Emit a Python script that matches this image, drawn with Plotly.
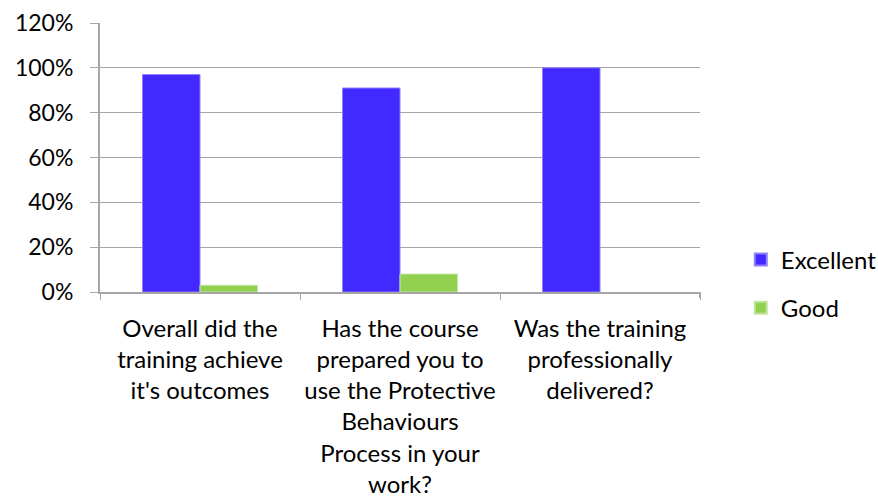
import plotly.graph_objects as go

categories = [
    "Overall did the<br>training achieve<br>it's outcomes",
    "Has the course<br>prepared you to<br>use the Protective<br>Behaviours<br>Process in your<br>work?",
    "Was the training<br>professionally<br>delivered?",
]
excellent = [0.97, 0.91, 1.00]
good = [0.03, 0.08, 0.0]
y_ticks = [0, 0.2, 0.4, 0.6, 0.8, 1.0, 1.2]

FAM = "Lato, 'Open Sans', sans-serif"
FONT = dict(family=FAM, size=24, color="#000000")

fig = go.Figure()
fig.add_trace(go.Bar(
    name="Excellent", x=categories, y=excellent, legendgroup="a",
    marker=dict(color="#4229FF", line=dict(color="#8F80FF", width=1)),
))
fig.add_trace(go.Bar(
    name="Good", x=categories, y=good, legendgroup="b",
    marker=dict(color="#92D050", line=dict(color="#C2E6A0", width=[1, 1, 0])),
))

fig.update_layout(
    width=878, height=499,
    margin=dict(l=100, r=178, t=23, b=207, autoexpand=False),
    paper_bgcolor="white", plot_bgcolor="white",
    font=FONT,
    barmode="group", bargap=0.425, bargroupgap=0,
    showlegend=True,
    legend=dict(x=1.068, xanchor="left", y=0.03, yanchor="middle",
                font=FONT, tracegroupgap=14, itemsizing="constant"),
)
fig.update_yaxes(
    range=[0, 1.2], tickvals=y_ticks, tickformat=".0%",
    tickfont=dict(family=FAM, size=23, color="#000000"),
    showgrid=True, gridcolor="#A6A6A6", gridwidth=1,
    showline=True, linecolor="#A6A6A6", linewidth=2,
    ticks="outside", ticklen=8, tickcolor="#A6A6A6",
    zeroline=False, ticklabelstandoff=12, automargin=False,
)
fig.update_xaxes(
    tickfont=dict(family=FAM, size=24, color="#000000"),
    showline=True, linecolor="#A6A6A6", linewidth=2,
    ticks="outside", tickson="boundaries", ticklen=6, tickcolor="#A6A6A6",
    showgrid=False, tickangle=0, automargin=False, ticklabelstandoff=14,
)
fig.add_shape(type="line", xref="paper", yref="paper", x0=1, x1=1, y0=0, y1=-0.022,
              line=dict(color="#A6A6A6", width=2))

fig.write_html("out.html", config={"displayModeBar": False},
               post_script="document.body.style.margin='0';")
